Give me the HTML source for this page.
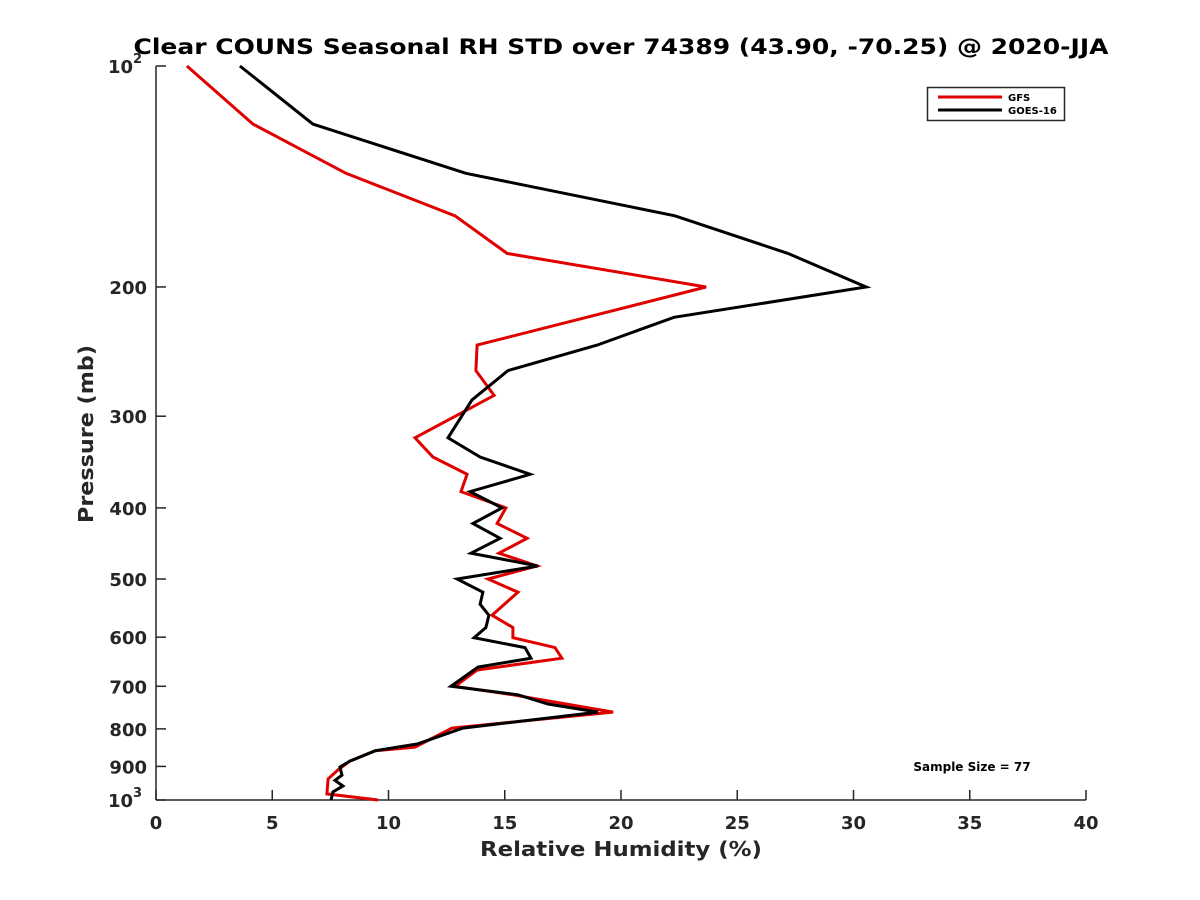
<!DOCTYPE html>
<html><head><meta charset="utf-8"><style>
html,body{margin:0;padding:0;background:#fff;}
svg{display:block;font-family:"DejaVu Sans","Liberation Sans",sans-serif;font-weight:bold;}
</style></head><body>
<svg id="chart" width="1200" height="900" viewBox="0 0 1200 900" xmlns="http://www.w3.org/2000/svg">
<rect width="1200" height="900" fill="#fff"/>
<text x="621" y="54" text-anchor="middle" font-size="21" textLength="975" lengthAdjust="spacingAndGlyphs" fill="#000">Clear COUNS Seasonal RH STD over 74389 (43.90, -70.25) @ 2020-JJA</text>
<g id="axes"></g>
<g id="series"></g>
<text x="621" y="856" text-anchor="middle" font-size="20" textLength="282" lengthAdjust="spacingAndGlyphs" fill="#262626">Relative Humidity (%)</text>
<text transform="translate(93,434) rotate(-90)" text-anchor="middle" font-size="20" textLength="178" lengthAdjust="spacingAndGlyphs" fill="#262626">Pressure (mb)</text>
<g>
<rect x="927.5" y="87.5" width="137" height="33" fill="#fff" stroke="#262626" stroke-width="1.5"/>
<line x1="938" y1="97" x2="1002" y2="97" stroke="#e00000" stroke-width="3"/>
<text x="1008" y="101" font-size="10" fill="#000">GFS</text>
<line x1="938" y1="110" x2="1002" y2="110" stroke="#000" stroke-width="3"/>
<text x="1008" y="114" font-size="10" fill="#000">GOES-16</text>
</g>
<text x="972" y="771" text-anchor="middle" font-size="12" fill="#000">Sample Size = 77</text>
</svg>
<script>
const xTicks = [0,5,10,15,20,25,30,35,40];
const yTicks = [100,200,300,400,500,600,700,800,900,1000];
const yTickLabels = ["10|2","200","300","400","500","600","700","800","900","10|3"];
const goesPressure = [100,120,140,160,180,200,220,240,260,285,321,341,360,380,400,420,440,461,480,500,521,541,560,582,601,620,641,659,700,719,740,759,798,839,857,885,902,925,940,957,975,1000];
const goesRH = [3.61,6.75,13.33,22.32,27.18,30.54,22.28,18.97,15.14,13.59,12.56,13.94,16.09,13.51,14.88,13.63,14.80,13.55,16.43,12.95,14.06,13.94,14.32,14.19,13.68,15.87,16.13,13.85,12.69,15.57,16.86,19.01,13.20,11.23,9.42,8.34,7.91,8.0,7.70,8.04,7.61,7.53];
const gfsPressure = [100,120,140,160,180,200,240,260,281,321,341,360,380,400,420,440,461,480,500,521,560,582,601,620,641,665,700,719,759,798,847,857,885,910,936,981,1000];
const gfsRH = [1.33,4.17,8.17,12.86,15.10,23.66,13.81,13.76,14.54,11.14,11.91,13.38,13.12,15.05,14.67,15.96,14.75,16.39,14.28,15.57,14.45,15.35,15.35,17.16,17.46,13.81,12.86,15.35,19.66,12.73,11.14,9.42,8.34,7.83,7.40,7.35,9.55];

const L=156,R=1086,T=66,B=800;
const xs=v=>L+(v-0)/(40-0)*(R-L);
const ys=p=>T+(Math.log10(p)-2)*(B-T);
const NS="http://www.w3.org/2000/svg";
function mk(tag,attrs,parent){const e=document.createElementNS(NS,tag);for(const k in attrs)e.setAttribute(k,attrs[k]);parent.appendChild(e);return e;}
const ax=document.getElementById('axes');
let e=mk('line',{x1:L,y1:B,x2:R,y2:B,stroke:'#262626','stroke-width':1.5},ax);


e=mk('line',{x1:L,y1:T,x2:L,y2:B,stroke:'#262626','stroke-width':1.5},ax);


xTicks.forEach(v=>{
  const x=xs(v);
  const t=mk('line',{x1:x,y1:B,x2:x,y2:B-10,stroke:'#262626','stroke-width':1.5},ax);
  
  
  const l=mk('text',{x:x,y:B+29,'text-anchor':'middle','font-size':18,fill:'#262626'},ax);
  l.textContent=String(v);
  
  
});
yTicks.forEach((p,i)=>{
  const y=ys(p);
  const t=mk('line',{x1:L,y1:y,x2:L+10,y2:y,stroke:'#262626','stroke-width':1.5},ax);
  
  
  const parts=yTickLabels[i].split('|');
  if(parts.length===2){
    const l=mk('text',{x:L-23,y:y+7,'text-anchor':'end','font-size':18,fill:'#262626'},ax);
    l.textContent=parts[0];
    
    
    const s=mk('text',{x:L-23,y:y-3,'text-anchor':'start','font-size':13,fill:'#262626'},ax);
    s.textContent=parts[1];
    
    
  } else {
    const l=mk('text',{x:L-9,y:y+7,'text-anchor':'end','font-size':18,fill:'#262626'},ax);
    l.textContent=parts[0];
    
    
  }
});
const sg=document.getElementById('series');
function line(ps,vs,color,name){
  const d=ps.map((p,i)=>(i?'L':'M')+xs(vs[i]).toFixed(1)+' '+ys(p).toFixed(1)).join(' ');
  const pth=mk('path',{d:d,fill:'none',stroke:color,'stroke-width':3,'stroke-linejoin':'miter'},sg);
  
  
}
line(gfsPressure,gfsRH,'#e00000','gfs-line');
line(goesPressure,goesRH,'#000','goes16-line');
</script>
</body></html>
